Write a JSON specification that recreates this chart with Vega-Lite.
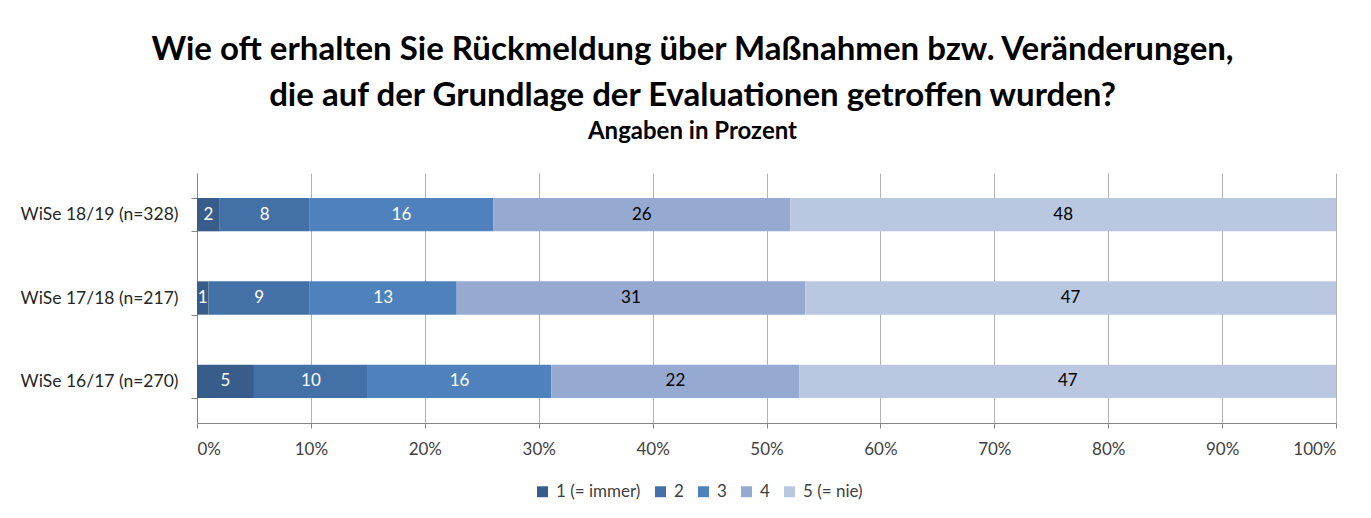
{
  "$schema": "https://vega.github.io/schema/vega-lite/v6.json",
  "width": 1139,
  "height": 250,
  "autosize": {"type": "none"},
  "padding": {"left": 197, "top": 173, "right": 35, "bottom": 95},
  "background": "white",
  "config": {"view": {"stroke": null}},
  "title": {
    "text": ["Wie oft erhalten Sie Rückmeldung über Maßnahmen bzw. Veränderungen,", "die auf der Grundlage der Evaluationen getroffen wurden?"],
    "subtitle": "Angaben in Prozent",
    "anchor": "middle",
    "dx": -74,
    "font": "Lato",
    "fontSize": 33,
    "fontWeight": "bold",
    "lineHeight": 46,
    "color": "black",
    "subtitleFont": "Lato",
    "subtitleFontSize": 24,
    "subtitleFontWeight": "bold",
    "subtitleColor": "black",
    "subtitlePadding": 7,
    "offset": 20
  },
  "data": {
    "values": [
      {"sem": "WiSe 18/19 (n=328)", "k": 1, "cat": "1 (= immer)", "v": 2.0},
      {"sem": "WiSe 18/19 (n=328)", "k": 2, "cat": "2", "v": 7.9},
      {"sem": "WiSe 18/19 (n=328)", "k": 3, "cat": "3", "v": 16.1},
      {"sem": "WiSe 18/19 (n=328)", "k": 4, "cat": "4", "v": 26.1},
      {"sem": "WiSe 18/19 (n=328)", "k": 5, "cat": "5 (= nie)", "v": 47.9},
      {"sem": "WiSe 17/18 (n=217)", "k": 1, "cat": "1 (= immer)", "v": 1.0},
      {"sem": "WiSe 17/18 (n=217)", "k": 2, "cat": "2", "v": 8.9},
      {"sem": "WiSe 17/18 (n=217)", "k": 3, "cat": "3", "v": 12.9},
      {"sem": "WiSe 17/18 (n=217)", "k": 4, "cat": "4", "v": 30.6},
      {"sem": "WiSe 17/18 (n=217)", "k": 5, "cat": "5 (= nie)", "v": 46.6},
      {"sem": "WiSe 16/17 (n=270)", "k": 1, "cat": "1 (= immer)", "v": 5.0},
      {"sem": "WiSe 16/17 (n=270)", "k": 2, "cat": "2", "v": 10.0},
      {"sem": "WiSe 16/17 (n=270)", "k": 3, "cat": "3", "v": 16.1},
      {"sem": "WiSe 16/17 (n=270)", "k": 4, "cat": "4", "v": 21.8},
      {"sem": "WiSe 16/17 (n=270)", "k": 5, "cat": "5 (= nie)", "v": 47.1}
    ]
  },
  "transform": [
    {"stack": "v", "groupby": ["sem"], "sort": [{"field": "k", "order": "ascending"}], "as": ["x0", "x1"]},
    {"calculate": "(datum.x0 + datum.x1) / 2", "as": "mid"}
  ],
  "encoding": {
    "y": {
      "field": "sem",
      "type": "nominal",
      "sort": ["WiSe 18/19 (n=328)", "WiSe 17/18 (n=217)", "WiSe 16/17 (n=270)"],
      "scale": {"paddingInner": 0.6, "paddingOuter": 0.3},
      "axis": {
        "title": null,
        "labelFont": "Lato",
        "labelFontSize": 17.5,
        "labelColor": "#262626",
        "domainColor": "#868686",
        "tickColor": "#868686",
        "tickBand": "extent",
        "tickSize": 6,
        "labelPadding": 13,
        "grid": false
      }
    }
  },
  "layer": [
    {
      "mark": {"type": "bar"},
      "encoding": {
        "x": {
          "field": "x0",
          "type": "quantitative",
          "scale": {"domain": [0, 100], "nice": false},
          "axis": {
            "title": null,
            "values": [0, 10, 20, 30, 40, 50, 60, 70, 80, 90, 100],
            "labelExpr": "datum.value + '%'",
            "labelFont": "Lato",
            "labelFontSize": 17,
            "labelColor": "#404040",
            "grid": true,
            "gridColor": "#B3B3B3",
            "domainColor": "#868686",
            "tickColor": "#868686",
            "tickSize": 5,
            "labelPadding": 13
          }
        },
        "x2": {"field": "x1"},
        "color": {
          "field": "cat",
          "type": "nominal",
          "sort": ["1 (= immer)", "2", "3", "4", "5 (= nie)"],
          "scale": {
            "domain": ["1 (= immer)", "2", "3", "4", "5 (= nie)"],
            "range": ["#385D8A", "#4371A7", "#4F81BD", "#95A9D1", "#B9C7E1"]
          },
          "legend": {
            "orient": "none",
            "legendX": 337,
            "legendY": 310,
            "direction": "horizontal",
            "title": null,
            "symbolType": "square",
            "symbolSize": 120,
            "symbolStrokeWidth": 0,
            "labelFont": "Lato",
            "labelFontSize": 17,
            "labelColor": "#404040",
            "columnPadding": 11,
            "labelOffset": 5
          }
        }
      }
    },
    {
      "mark": {"type": "text", "font": "Lato", "fontSize": 17, "baseline": "middle", "align": "center"},
      "encoding": {
        "x": {"field": "mid", "type": "quantitative"},
        "text": {"field": "v", "type": "quantitative", "format": ".0f"},
        "fill": {"condition": {"test": "datum.k <= 3", "value": "#FFFFFF"}, "value": "#000000"}
      }
    }
  ]
}
